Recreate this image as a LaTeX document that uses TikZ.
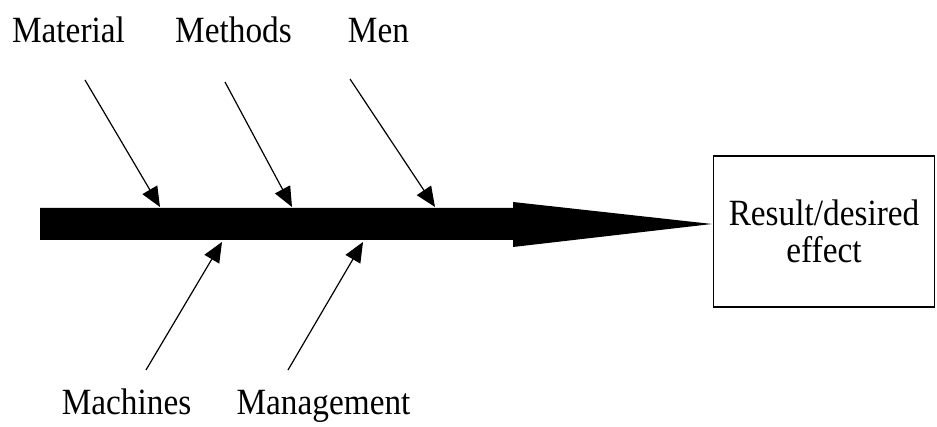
\documentclass[tikz,border=0pt]{standalone}
\usepackage{fontspec}
\setmainfont{Liberation Serif}
\usetikzlibrary{arrows.meta,positioning}

\begin{document}
\begin{tikzpicture}[x=1pt,y=1pt,>={Triangle[length=20pt,width=17pt]},
    cause/.style={->,line width=1.2pt},
    lbl/.style={font=\fontsize{37}{37}\selectfont,inner sep=0pt,anchor=base,xscale=0.9,transform shape},
    effectbox/.style={draw,line width=1.3pt,minimum width=245.5pt,minimum height=151pt,
      align=center,font=\fontsize{37}{37}\selectfont,xscale=0.9,transform shape}]
  \useasboundingbox (0,0) rectangle (937,427);
  \node[effectbox] (result) at (824,195.5) {Result/desired\\effect};
  \coordinate (tip) at (712,203);
  \fill (40,219) -- (513,219) -- (513,225) -- (tip) -- (513,180) -- (513,187) -- (40,187) -- cycle;
  \node[lbl] (material) at (68.5,384) {Material};
  \node[lbl] (methods) at (233.5,384) {Methods};
  \node[lbl] (men) at (378.5,384) {Men};
  \node[lbl] (machines) at (126.5,12) {Machines};
  \node[lbl] (management) at (323.5,12) {Management};
  \coordinate (material-t) at (85,347);  \coordinate (material-h) at (160,220);
  \coordinate (methods-t) at (225,345);  \coordinate (methods-h) at (292,220);
  \coordinate (men-t) at (350,348);      \coordinate (men-h) at (435,220);
  \coordinate (machines-t) at (146,57);  \coordinate (machines-h) at (222,185);
  \coordinate (management-t) at (288,57); \coordinate (management-h) at (363,185);
  \foreach \c in {material,methods,men,machines,management}
    \draw[cause] (\c-t) -- (\c-h);
\end{tikzpicture}
\end{document}
